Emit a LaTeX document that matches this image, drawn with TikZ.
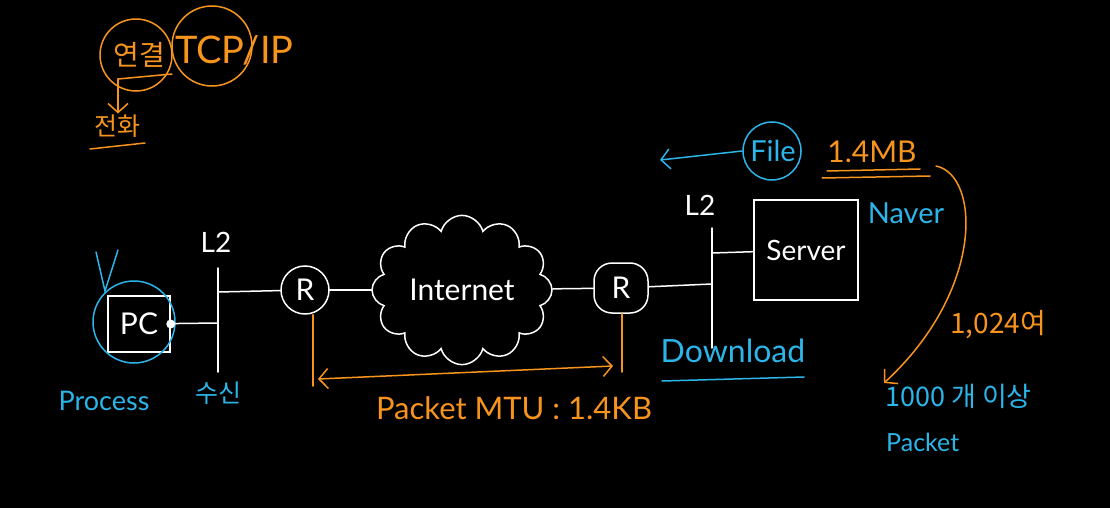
\documentclass[tikz,border=0pt]{standalone}
\usepackage{fontspec}
\setmainfont{Lato}
\newfontfamily\kr{Noto Sans CJK KR}
\usetikzlibrary{shapes.symbols,arrows.meta}
\definecolor{penorange}{HTML}{F7941D}
\definecolor{penblue}{HTML}{2BB5E8}

\tikzstyle{ink}=[line width=1.5pt,line cap=round]
\tikzstyle{wire}=[draw=white,ink]
\tikzstyle{router}=[circle,draw=white,ink,minimum size=48pt,inner sep=0pt,text=white,font=\fontsize{30}{32}\selectfont]
\tikzstyle{box}=[rectangle,draw=white,ink,text=white,inner sep=0pt]
\tikzstyle{ring}=[circle,ink,inner sep=0pt]
\tikzstyle{orange label}=[text=penorange,inner sep=1pt]
\tikzstyle{blue label}=[text=penblue,inner sep=1pt]
\tikzstyle{white label}=[text=white,inner sep=1pt]
\tikzstyle{barb}=[-{Straight Barb[length=9pt,width=20pt]}]

\begin{document}
\begin{tikzpicture}[x=1pt,y=-1pt]
\fill[black] (0,0) rectangle (1110,508);
\useasboundingbox (0,0) rectangle (1110,508);

% top left notes
\node[orange label,font=\kr\fontsize{28}{30}\selectfont] (conn) at (139,55) {연결};
\node[ring,draw=penorange,minimum size=72pt] (connring) at (136,55) {};
\node[orange label,font=\fontsize{38}{40}\selectfont,anchor=west] (tcpip) at (174,50) {TCP/IP};
\node[ring,draw=penorange,minimum size=80pt] (tcpring) at (212,46) {};
\node[orange label,font=\kr\fontsize{25}{27}\selectfont] (phone) at (117,126) {전화};
\coordinate (connA) at (118,79);
\coordinate (connB) at (172,74);
\coordinate (phoneA) at (90,149);
\coordinate (phoneB) at (145,143);
\draw[penorange,ink] (connA) -- (connB);
\draw[penorange,ink] (phoneA) -- (phoneB);
\draw[penorange,ink,barb] (connA) -- (phone.north -| connA);

% client side
\node[box,minimum width=62pt,minimum height=56pt,font=\fontsize{30}{32}\selectfont] (pc) at (139,324) {PC};
\node[ring,draw=penblue,minimum size=82pt] (pcring) at (134,322) {};
\coordinate (tickL) at (96,252);
\coordinate (tickR) at (118,250);
\coordinate (tickV) at (105,291);
\draw[penblue,ink] (tickL) -- (tickV) -- (tickR);
\node[blue label,font=\fontsize{27}{29}\selectfont] (process) at (104,401) {Process};
\fill[white] (pc.east) circle (4.5pt);

\coordinate (l2aTop) at (218,268);
\coordinate (l2aBot) at (218,372);
\coordinate (l2aPC) at (218,323);
\coordinate (l2aR) at (218,292);
\draw[wire] (l2aTop) -- (l2aBot);
\node[white label,font=\fontsize{28}{30}\selectfont] (l2a) at (216,242) {L2};
\node[blue label,font=\kr\fontsize{25}{27}\selectfont] (recv) at (218,393) {수신};

% network
\node[router] (r1) at (305,290) {R};
\node[cloud,cloud puffs=12,aspect=1.3,draw=white,ink,minimum width=180pt,minimum height=140pt,
      text=white,font=\fontsize{30}{32}\selectfont] (net) at (462,290) {Internet};
\node[router,rectangle,rounded corners=18pt,minimum width=54pt,minimum height=50pt] (r2) at (621,288) {R};

\coordinate (l2bTop) at (712,228);
\coordinate (l2bBot) at (712,348);
\coordinate (l2bR) at (712,284);
\coordinate (l2bS) at (712,253);
\draw[wire] (l2bTop) -- (l2bBot);
\node[white label,font=\fontsize{28}{30}\selectfont] (l2b) at (700,205) {L2};

\node[box,minimum width=104pt,minimum height=100pt,font=\fontsize{28}{30}\selectfont] (srv) at (806,250) {Server};
\node[blue label,font=\fontsize{29}{31}\selectfont] (naver) at (906,213) {Naver};

\foreach \source/\dest in {pc/l2aPC, l2aR/r1, r1/net, net/r2, r2/l2bR, l2bS/srv}{
  \path[wire] (\source) -- (\dest);
}

% file transfer
\node[blue label,font=\fontsize{29}{31}\selectfont] (file) at (773,151) {File};
\node[ring,draw=penblue,minimum size=58pt] (filering) at (772,151) {};
\coordinate (fileTo) at (660,160);
\draw[penblue,ink,barb] (filering.west) -- (fileTo);
\node[orange label,font=\fontsize{30}{32}\selectfont] (mb) at (872,152) {1.4MB};
\coordinate (mbA) at (827,171);
\coordinate (mbB) at (920,169);
\coordinate (mbC) at (822,178);
\coordinate (mbD) at (930,176);
\draw[penorange,ink] (mbA) -- (mbB);
\draw[penorange,ink] (mbC) -- (mbD);
\coordinate (splitFrom) at (936,166);
\node[blue label,font=\kr\fontsize{27}{29}\selectfont,anchor=north west] (cnt) at (884,383) {1000 개 이상};
\node[blue label,font=\fontsize{25}{27}\selectfont,anchor=west] (pkt) at (885,442) {Packet};
\draw[penorange,ink,barb] (splitFrom) .. controls (980,175) and (985,290) .. (cnt.north west);
\node[orange label,font=\kr\fontsize{28}{30}\selectfont] (approx) at (998,325) {1,024여};

% MTU
\coordinate (mtuA) at (313,386);
\coordinate (mtuB) at (622,372);
\coordinate (mtuL) at (318,379);
\coordinate (mtuR) at (613,366);
\draw[penorange,ink] (r1.south -| mtuA) -- (mtuA);
\draw[penorange,ink] (r2.south -| mtuB) -- (mtuB);
\draw[penorange,ink,{Straight Barb[length=9pt,width=20pt]}-{Straight Barb[length=9pt,width=20pt]}] (mtuL) -- (mtuR);
\node[orange label,font=\fontsize{31}{33}\selectfont] (mtu) at (514,408) {Packet MTU : 1.4KB};

\node[blue label,font=\fontsize{32}{34}\selectfont] (down) at (733,351) {Download};
\coordinate (downA) at (662,381);
\coordinate (downB) at (804,377);
\draw[penblue,ink] (downA) -- (downB);
\end{tikzpicture}
\end{document}
